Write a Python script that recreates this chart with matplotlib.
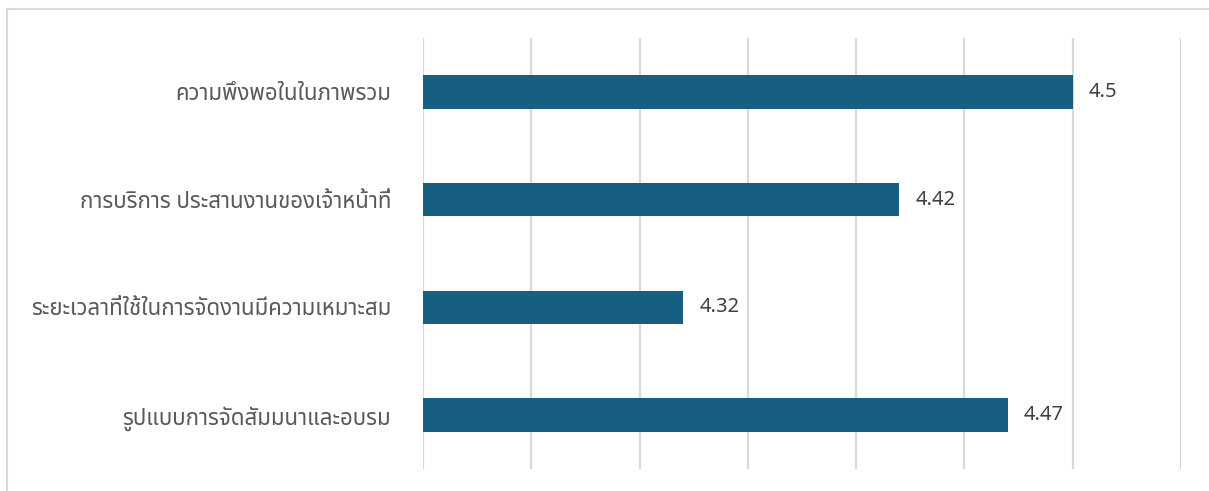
import matplotlib

matplotlib.use("Agg")

import matplotlib.pyplot as plt
from matplotlib.patches import Rectangle

categories = [
    "ความพึงพอในในภาพรวม",
    "การบริการ ประสานงานของเจ้าหน้าที่",
    "ระยะเวลาที่ใช้ในการจัดงานมีความเหมาะสม",
    "รูปแบบการจัดสัมมนาและอบรม",
]
scores = [4.5, 4.42, 4.32, 4.47]
x_ticks = [4.20, 4.25, 4.30, 4.35, 4.40, 4.45, 4.50, 4.55]

plt.rcParams["font.family"] = ["Noto Sans Thai", "Noto Sans", "DejaVu Sans"]

fig = plt.figure(figsize=(12.09, 4.91), dpi=100)
ax = fig.add_axes([423 / 1209, 1 - 469 / 491, (1181 - 423) / 1209, (469 - 38) / 491])

positions = list(range(len(categories)))[::-1]
bar_color = "#175f80"
ax.barh(positions, [s - x_ticks[0] for s in scores], left=x_ticks[0],
        height=0.31, color=bar_color, zorder=3)

for pos, value in zip(positions, scores):
    ax.text(value + 0.0075, pos, f"{value:g}", va="center", ha="left",
            fontsize=14.5, color="#404040", zorder=4)

ax.set_xlim(x_ticks[0], x_ticks[-1])
ax.set_ylim(-0.5, len(categories) - 0.5)
ax.set_xticks(x_ticks)
ax.set_xticklabels([])
ax.set_yticks(positions)
ax.set_yticklabels(categories, fontsize=16, color="#595959")
ax.tick_params(axis="both", length=0)
ax.tick_params(axis="y", pad=23)
ax.grid(axis="x", color="#d9d9d9", linewidth=1.6, zorder=0)
for spine in ax.spines.values():
    spine.set_visible(False)

# outer chart frame, only left and top edges fall inside the image
frame = Rectangle((7 / 1209, -0.2), 1.3, 1 - 9 / 491 + 0.2, transform=fig.transFigure,
                  facecolor="none", edgecolor="#d9d9d9", linewidth=1.5, clip_on=False)
fig.patches.append(frame)

fig.savefig("out.png", dpi=100)
